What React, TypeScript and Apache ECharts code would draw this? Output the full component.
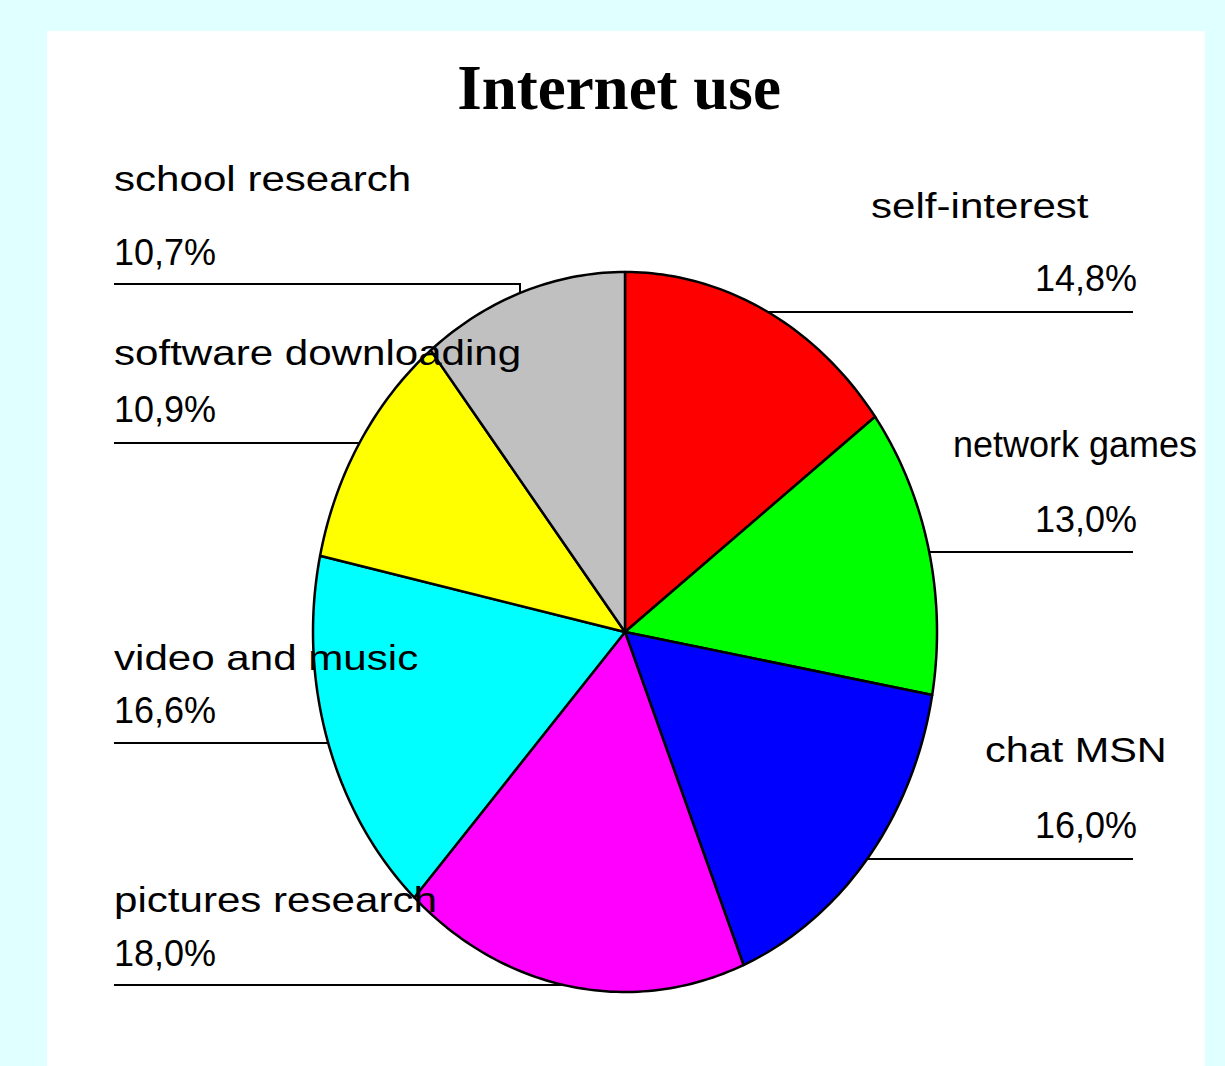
import React, { useEffect, useRef } from 'react';
import * as echarts from 'echarts';

// ---- data ----
const categories = [
  'self-interest',
  'network games',
  'chat MSN',
  'pictures research',
  'video and music',
  'software downloading',
  'school research',
];
const values = [14.8, 13.0, 16.0, 18.0, 16.6, 10.9, 10.7];
const percentLabels = ['14,8%', '13,0%', '16,0%', '18,0%', '16,6%', '10,9%', '10,7%'];
const colors = ['#FF0000', '#00FF00', '#0000FF', '#FF00FF', '#00FFFF', '#FFFF00', '#C0C0C0'];
const titleText = 'Internet use';

// ---- layout ----
const W = 1225;
const H = 1066;
const CX = 625;
const CY = 632;
const RX = 312;
const RY = 360;
const FONT = '"Liberation Sans", Arial, Helvetica, sans-serif';
const FS = 36;
const BASE_OFF = 12.5; // baseline -> central offset

type Lay = { nameX: number; nameY: number; pctX: number; pctY: number; lineY: number; side: 'left' | 'right'; scale: number; dropX?: number };
const labelLayout: Lay[] = [
  { nameX: 871, nameY: 218, pctX: 1137, pctY: 291, lineY: 312, side: 'right', scale: 1.17 },
  { nameX: 953, nameY: 457, pctX: 1137, pctY: 532, lineY: 552, side: 'right', scale: 1.0 },
  { nameX: 985, nameY: 762, pctX: 1137, pctY: 838, lineY: 859, side: 'right', scale: 1.15 },
  { nameX: 114, nameY: 912, pctX: 114, pctY: 966, lineY: 985, side: 'left', scale: 1.17 },
  { nameX: 114, nameY: 670, pctX: 114, pctY: 723, lineY: 743, side: 'left', scale: 1.17 },
  { nameX: 114, nameY: 365, pctX: 114, pctY: 422, lineY: 443, side: 'left', scale: 1.17 },
  { nameX: 114, nameY: 191, pctX: 114, pctY: 265, lineY: 284, side: 'left', scale: 1.17, dropX: 520 },
];

function buildGraphics() {
  const els: any[] = [];
  els.push({
    type: 'rect',
    z: 0,
    shape: { x: 47, y: 31, width: 1158, height: H - 31 + 10 },
    style: { fill: '#FFFFFF' },
    silent: true,
  });
  els.push({
    type: 'text',
    z: 10,
    x: 619,
    y: 88,
    style: {
      text: titleText,
      font: 'bold 63px "Liberation Serif", "Times New Roman", serif',
      fill: '#000',
      align: 'center',
      verticalAlign: 'middle',
    },
  });
  categories.forEach((name, i) => {
    const L = labelLayout[i];
    let pts: number[][];
    if (L.side === 'right') {
      pts = [[CX, L.lineY], [1133, L.lineY]];
    } else if (L.dropX !== undefined) {
      pts = [[114, L.lineY], [L.dropX, L.lineY], [L.dropX, CY]];
    } else {
      pts = [[114, L.lineY], [CX, L.lineY]];
    }
    els.push({
      type: 'polyline',
      z: 1,
      shape: { points: pts },
      style: { stroke: '#000', lineWidth: 2, fill: null },
      silent: true,
    });
    els.push({
      type: 'text',
      z: 10,
      x: L.nameX,
      y: L.nameY - BASE_OFF,
      scaleX: L.scale,
      style: {
        text: name,
        font: `${FS}px ${FONT}`,
        fill: '#000',
        align: 'left',
        verticalAlign: 'middle',
      },
    });
    els.push({
      type: 'text',
      z: 10,
      x: L.pctX,
      y: L.pctY - BASE_OFF,
      style: {
        text: percentLabels[i],
        font: `${FS}px ${FONT}`,
        fill: '#000',
        align: L.side === 'right' ? 'right' : 'left',
        verticalAlign: 'middle',
      },
    });
  });
  return els;
}

export default function App() {
  const ref = useRef<HTMLDivElement>(null);
  useEffect(() => {
    if (!ref.current) return;
    const chart = echarts.init(ref.current, null, { renderer: 'svg' });
    const total = values.reduce((a, b) => a + b, 0);
    chart.setOption({
      animation: false,
      backgroundColor: '#E0FFFF',
      graphic: { elements: buildGraphics() },
      series: [
        {
          type: 'custom',
          coordinateSystem: 'none',
          z: 2,
          data: values.map((v, i) => ({ name: categories[i], value: v })),
          renderItem: (params: any, api: any) => {
            const i = params.dataIndex;
            let start = 0;
            for (let k = 0; k < i; k++) start += values[k];
            const v = api.value(0);
            const a0 = (start / total) * 2 * Math.PI;
            const a1 = ((start + v) / total) * 2 * Math.PI;
            const n = Math.max(2, Math.ceil(((a1 - a0) * 180) / Math.PI));
            const pts: number[][] = [[CX, CY]];
            for (let s = 0; s <= n; s++) {
              const a = a0 + ((a1 - a0) * s) / n;
              pts.push([CX + RX * Math.sin(a), CY - RY * Math.cos(a)]);
            }
            return {
              type: 'polygon',
              shape: { points: pts },
              style: { fill: colors[i], stroke: '#000', lineWidth: 2.5, lineJoin: 'round' },
            };
          },
        },
      ],
    });
    return () => chart.dispose();
  }, []);
  return (
    <div
      ref={ref}
      style={{ position: 'absolute', left: 0, top: 0, width: W, height: H }}
    />
  );
}
